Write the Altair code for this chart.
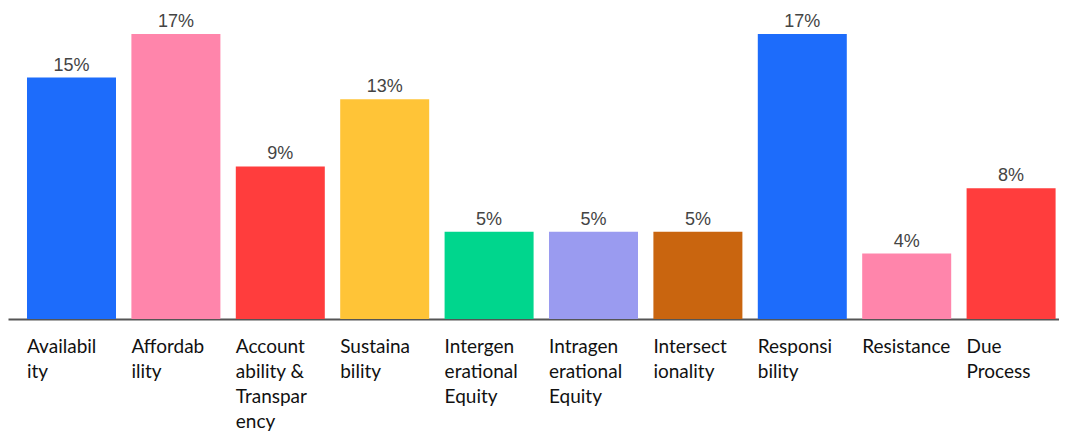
import altair as alt
import pandas as pd

categories = [
    "Availabil\nity", "Affordab\nility", "Account\nability &\nTranspar\nency",
    "Sustaina\nbility", "Intergen\nerational\nEquity", "Intragen\nerational\nEquity",
    "Intersect\nionality", "Responsi\nbility", "Resistance", "Due\nProcess",
]
values = [14.4, 17.0, 9.1, 13.1, 5.2, 5.2, 5.2, 17.0, 3.9, 7.8]
value_labels = ["15%", "17%", "9%", "13%", "5%", "5%", "5%", "17%", "4%", "8%"]
colors = ["#1d6cfb", "#ff85ab", "#ff3d3d", "#ffc437", "#00d68d",
          "#9a9bf0", "#c9650f", "#1d6cfb", "#ff85ab", "#ff3d3d"]

df = pd.DataFrame({"cat": categories, "val": values, "lab": value_labels, "col": colors})

xscale = alt.Scale(domain=categories, paddingInner=0.1475, paddingOuter=0.1073, align=0.848)
x = alt.X("cat:N", sort=categories, scale=xscale, title=None,
          axis=alt.Axis(labelAngle=0, labelAlign="left", labelOffset=-44.5, ticks=False,
                        domainColor="#555555", domainWidth=2,
                        labelFont="Lato", labelFontSize=19, labelColor="#111111",
                        labelBaseline="alphabetic", labelPadding=33, labelLineHeight=25,
                        labelLimit=0, labelOverlap=False, labelFlush=False,
                        labelExpr="split(datum.label, '\\n')"))
y = alt.Y("val:Q", scale=alt.Scale(domain=[0, 18.55], nice=False), axis=None)

bars = alt.Chart(df).mark_bar().encode(x=x, y=y, color=alt.Color("col:N", scale=None))
text = alt.Chart(df).mark_text(dy=-7, baseline="alphabetic", font="Liberation Sans",
                               fontSize=18, color="#444444").encode(
    x=alt.X("cat:N", sort=categories, scale=xscale), y=y, text="lab:N")

chart = (bars + text).properties(
    width=1051, height=311,
    autosize=alt.AutoSizeParams(type="none"),
    padding={"left": 0, "top": 0, "right": 0, "bottom": 115},
).configure_view(stroke=None).configure_axis(grid=False)

chart.save("out.html", embed_options={"renderer": "svg", "actions": False})
